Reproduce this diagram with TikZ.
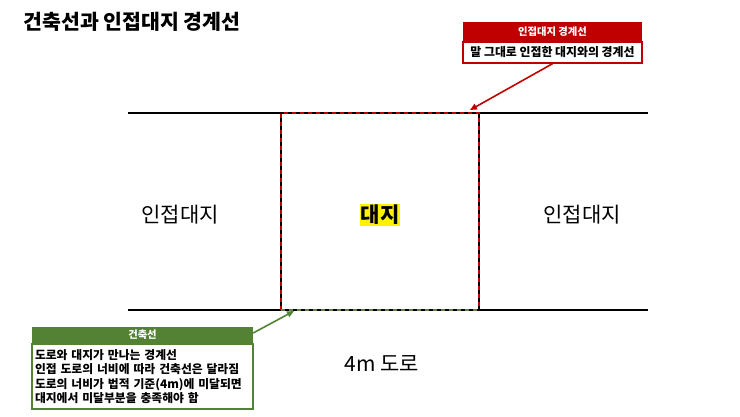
\documentclass[tikz,border=0pt]{standalone}
\usepackage{fontspec}
\setmainfont{Noto Sans CJK KR}
\usetikzlibrary{positioning,arrows.meta}
\definecolor{boundred}{RGB}{192,0,0}
\definecolor{linegreen}{RGB}{84,130,53}
\tikzset{
  roadline/.style={line width=1.6pt,black},
  lotdash/.style={line width=1.6pt,boundred,dash pattern=on 4pt off 4pt},
  lotdashg/.style={line width=1.6pt,linegreen!70!gray,dash pattern=on 4pt off 4pt},
  bigtext/.style={font=\fontsize{21}{23}\selectfont},
  headbox/.style={minimum height=#1,inner sep=0pt,text=white,font=\bfseries\fontsize{10.3}{11}\selectfont},
  redarrow/.style={-{Triangle[length=7pt,width=6pt]},line width=1.6pt,boundred},
  greenarrow/.style={-{Triangle[length=7pt,width=6pt]},line width=1.6pt,linegreen}
}
\begin{document}
\begin{tikzpicture}[x=1pt,y=-1pt]
\useasboundingbox (0,0) rectangle (740,416);
\fill[white] (0,0) rectangle (740,416);
% title
\node[anchor=west,font=\bfseries\fontsize{20.5}{23}\selectfont] (title) at (20,22) {건축선과 인접대지 경계선};
% road lines and lot
\draw[roadline] (128,113) -- (648,113);
\draw[roadline] (128,310) -- (648,310);
\draw[roadline] (281,113) -- (281,310);
\draw[roadline] (479,113) -- (479,310);
\draw[lotdash] (281,310) -- (281,113) -- (479,113) -- (479,310);
\draw[lotdashg] (281,310) -- (479,310);
% labels
\node[bigtext] (leftlot) at (180,215) {인접대지};
\node[bigtext] (rightlot) at (582,215) {인접대지};
\node[bigtext,font=\bfseries\fontsize{21}{23}\selectfont,fill=yellow,inner sep=1pt] (lot) at (380,215) {대지};
\node[bigtext] (road) at (382,364) {4m 도로};
% red callout
\node[headbox=19pt,minimum width=179pt,fill=boundred] (redhead) at (552.5,31.5) {인접대지 경계선};
\node[below=0pt of redhead,minimum width=179pt,minimum height=21pt,inner sep=0pt,draw=boundred,line width=1.5pt,font=\bfseries\fontsize{11.9}{13}\selectfont] (redbody) {말 그대로 인접한 대지와의 경계선};
\coordinate (redtip) at (470,110);
\draw[redarrow] (redbody.south) -- (redtip);
% green callout
\node[headbox=16pt,minimum width=221pt,fill=linegreen] (greenhead) at (142.5,335) {건축선};
\node[below=0pt of greenhead,minimum width=221pt,minimum height=65pt,text width=215pt,inner xsep=3pt,inner ysep=0pt,align=left,draw=linegreen,line width=1.5pt,font=\bfseries\fontsize{11.8}{14.5}\selectfont] (greenbody) {도로와 대지가 만나는 경계선\\인접 도로의 너비에 따라 건축선은 달라짐\\도로의 너비가 법적 기준(4m)에 미달되면\\대지에서 미달부분을 충족해야 함};
\coordinate (greentip) at (294,311);
\draw[greenarrow] (greenhead.east) ++(0,-2) -- (greentip);
\end{tikzpicture}
\end{document}
